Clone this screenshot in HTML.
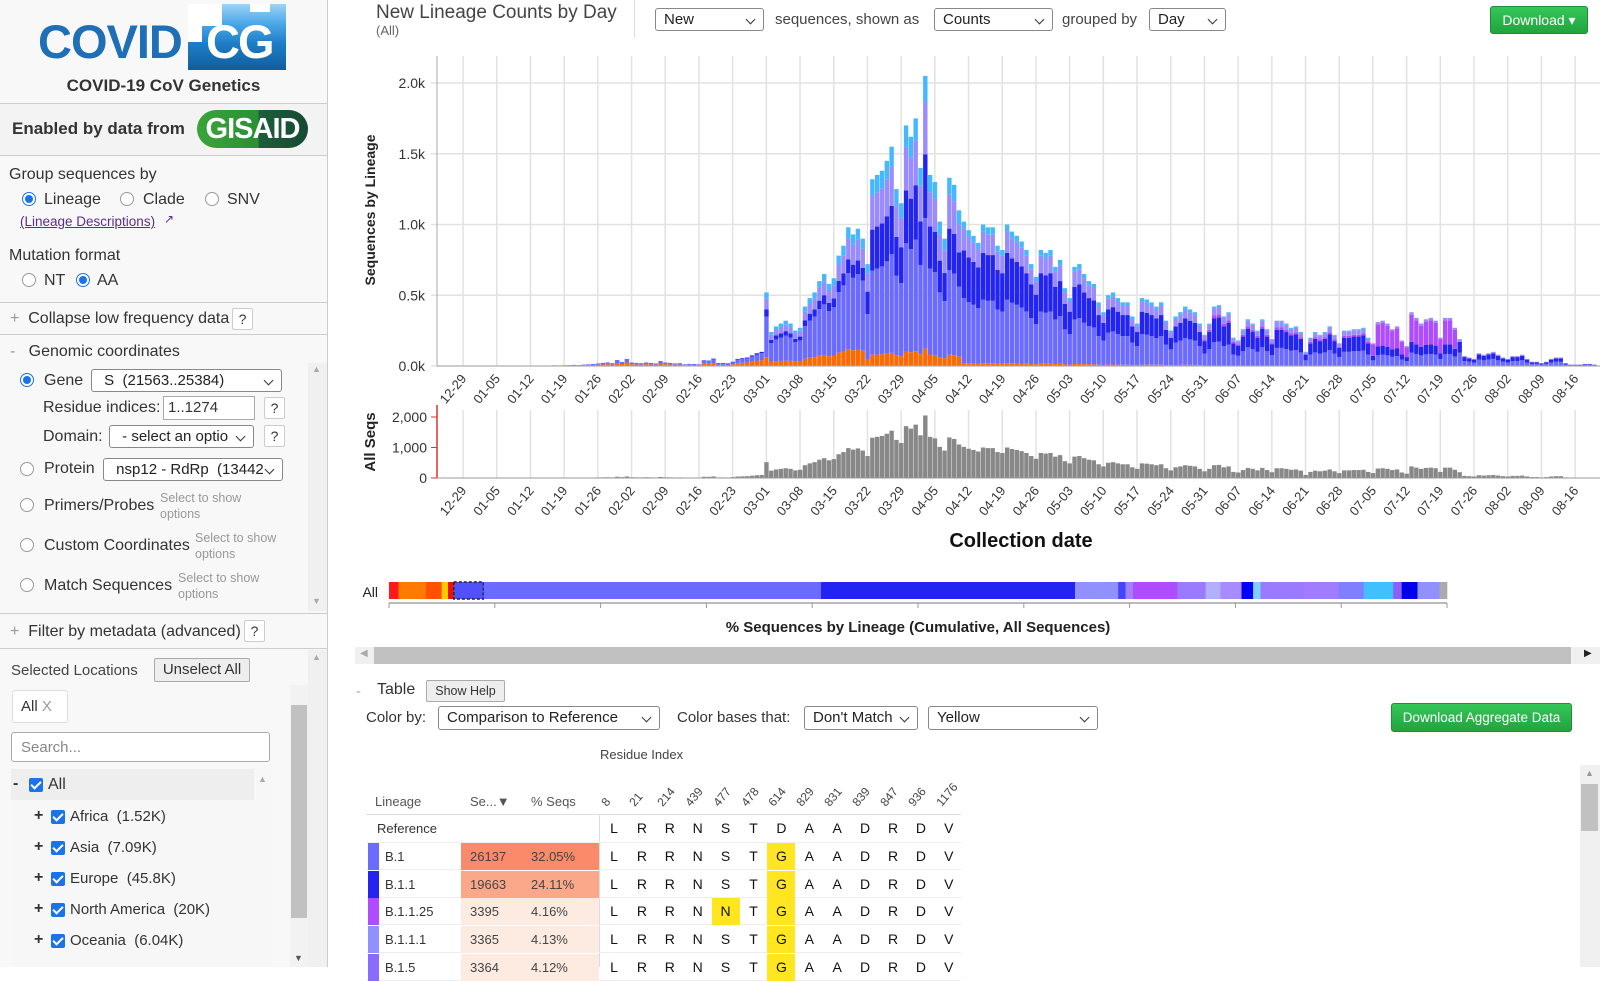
<!DOCTYPE html>
<html><head><meta charset="utf-8">
<style>
*{box-sizing:border-box;margin:0;padding:0}
body{width:1600px;height:967px;overflow:hidden;background:#fff;font-family:"Liberation Sans",Arial,sans-serif;color:#333;position:relative}
.a{position:absolute;white-space:nowrap}
.sb{position:absolute;left:0;top:0;width:328px;height:967px;background:#f8f8f8;border-right:1px solid #ccc}
.sep{position:absolute;left:0;width:327px;height:1px;background:#ccc}
.sel{position:absolute;border:1px solid #888;border-radius:3px;background:#fff;font-size:15px;padding:2px 8px;color:#222}
.sel:after{content:"";position:absolute;right:9px;top:7px;width:6px;height:6px;border-right:1.3px solid #333;border-bottom:1.3px solid #333;transform:rotate(45deg)}
.radio{position:absolute;width:14px;height:14px;border-radius:50%;border:1px solid #999;background:#fff}
.radio.on{border:1px solid #1a73e8}
.radio.on:after{content:"";position:absolute;left:2px;top:2px;width:8px;height:8px;border-radius:50%;background:#1a73e8}
.q{position:absolute;width:21px;height:22px;border:1px solid #ccc;background:#fff;font-size:14px;text-align:center;line-height:20px;border-radius:2px}
.hint{position:absolute;font-size:12.5px;color:#999;line-height:16px}
.cb{position:absolute;width:14px;height:14px;background:#1a73e8;border-radius:2px}
.cb:after{content:"";position:absolute;left:4px;top:1px;width:4px;height:8px;border-right:2px solid #fff;border-bottom:2px solid #fff;transform:rotate(45deg)}
.t16{font-size:16px}
.btn{position:absolute;background:#eee;border:1px solid #aaa;font-size:15px;text-align:center;border-radius:2px}
.gbtn{position:absolute;background:linear-gradient(#34c759,#22a33f);border:1px solid #1d8d36;border-radius:3px;color:#fff;font-size:14px;text-align:center}
.cell{position:absolute;font-size:14px;color:#111;text-align:center;width:28px}
</style></head><body>

<div class="sb">
  <div class="a" style="left:36px;top:4px;width:250px;height:66px">
    <div class="a" style="left:152px;top:0;width:98px;height:66px;background:linear-gradient(180deg,#9fd3f5 0,#4aa8e8 30%,#1f7dc7 60%,#0f5e9e 100%)"></div>
    <div class="a" style="left:152px;top:0;width:34px;height:22px;background:#fff"></div>
    <div class="a" style="left:152px;top:22px;width:14px;height:16px;background:#fff"></div>
    <div class="a" style="left:214px;top:0;width:20px;height:8px;background:#fff"></div>
    <div class="a" style="left:2px;top:10px;font-size:47px;font-weight:bold;color:#1e6fb5;letter-spacing:-1px">COVID</div>
    <div class="a" style="left:170px;top:10px;font-size:47px;font-weight:bold;color:#fff;letter-spacing:-2px">CG</div>
  </div>
  <div class="a" style="left:0;width:327px;text-align:center;top:76px;font-size:17px;font-weight:bold;color:#333">COVID-19 CoV Genetics</div>
  <div class="sep" style="top:103px"></div>
  <div class="a" style="left:0;top:104px;width:327px;height:51px;background:#f3f3f3"></div>
  <div class="a" style="left:12px;top:119px;font-size:17px;font-weight:bold;color:#333">Enabled by data from</div>
  <div class="a" style="left:197px;top:110px;width:111px;height:38px;border-radius:19px;background:linear-gradient(90deg,#3aa43a 0,#2b8f35 55%,#1d5e3c 56%,#164a32 100%);color:#fff;font-weight:bold;font-size:29px;text-align:center;line-height:38px;letter-spacing:-1px">GISAID</div>
  <div class="sep" style="top:155px"></div>

  <div class="a t16" style="left:9px;top:166px">Group sequences by</div>
  <div class="radio on" style="left:22px;top:192px"></div><div class="a t16" style="left:44px;top:191px">Lineage</div>
  <div class="radio" style="left:120px;top:192px"></div><div class="a t16" style="left:143px;top:191px">Clade</div>
  <div class="radio" style="left:205px;top:192px"></div><div class="a t16" style="left:227px;top:191px">SNV</div>
  <div class="a" style="left:20px;top:214px;font-size:13.5px;color:#5b2d90;text-decoration:underline">(Lineage Descriptions)</div><div class="a" style="left:164px;top:212px;font-size:12px;color:#5b2d90">↗</div>
  <div class="a t16" style="left:9px;top:247px">Mutation format</div>
  <div class="radio" style="left:22px;top:273px"></div><div class="a t16" style="left:44px;top:272px">NT</div>
  <div class="radio on" style="left:76px;top:273px"></div><div class="a t16" style="left:97px;top:272px">AA</div>
  <div class="sep" style="top:302px"></div>

  <div class="a t16" style="left:10px;top:310px"><span style="color:#999">+</span>&nbsp; Collapse low frequency data</div>
  <div class="q" style="left:232px;top:308px">?</div>
  <div class="sep" style="top:334px"></div>
  <div class="a t16" style="left:10px;top:343px"><span style="color:#999">-</span>&nbsp;&nbsp; Genomic coordinates</div>
  <div class="a" style="left:308px;top:363px;width:19px;height:248px;background:#f0f0f0"></div>
  <div class="a" style="left:312px;top:364px;font-size:9px;color:#aaa">▲</div><div class="a" style="left:312px;top:596px;font-size:9px;color:#aaa">▼</div>
  <div class="radio on" style="left:20px;top:373px"></div><div class="a t16" style="left:44px;top:372px">Gene</div>
  <div class="sel" style="left:91px;top:369px;width:191px;height:23px">&nbsp;S&nbsp; (21563..25384)</div>
  <div class="a t16" style="left:43px;top:399px">Residue indices:</div>
  <div class="a" style="left:163px;top:396px;width:92px;height:24px;border:1px solid #aaa;background:#fff;font-size:15px;padding:2px 4px">1..1274</div>
  <div class="q" style="left:264px;top:397px">?</div>
  <div class="a t16" style="left:43px;top:428px">Domain:</div>
  <div class="sel" style="left:109px;top:425px;width:145px;height:23px;overflow:hidden">&nbsp;- select an optio</div>
  <div class="q" style="left:264px;top:425px">?</div>
  <div class="radio" style="left:20px;top:462px"></div><div class="a t16" style="left:44px;top:460px">Protein</div>
  <div class="sel" style="left:103px;top:458px;width:180px;height:23px;overflow:hidden">&nbsp;nsp12 - RdRp&nbsp; (13442</div>
  <div class="radio" style="left:20px;top:498px"></div><div class="a t16" style="left:44px;top:497px">Primers/Probes</div>
  <div class="hint" style="left:160px;top:490px">Select to show<br>options</div>
  <div class="radio" style="left:20px;top:538px"></div><div class="a t16" style="left:44px;top:537px">Custom Coordinates</div>
  <div class="hint" style="left:195px;top:530px">Select to show<br>options</div>
  <div class="radio" style="left:20px;top:578px"></div><div class="a t16" style="left:44px;top:577px">Match Sequences</div>
  <div class="hint" style="left:178px;top:570px">Select to show<br>options</div>
  <div class="sep" style="top:613px"></div>
  <div class="a t16" style="left:10px;top:623px"><span style="color:#999">+</span>&nbsp; Filter by metadata (advanced)</div>
  <div class="q" style="left:244px;top:620px">?</div>
  <div class="sep" style="top:648px"></div>

  <div class="a" style="left:308px;top:650px;width:19px;height:317px;background:#f0f0f0"></div>
  <div class="a" style="left:312px;top:652px;font-size:9px;color:#aaa">▲</div>
  <div class="a" style="left:11px;top:662px;font-size:15px;color:#444">Selected Locations</div>
  <div class="btn" style="left:154px;top:658px;width:96px;height:24px;line-height:22px">Unselect All</div>
  <div class="a" style="left:290px;top:685px;width:18px;height:282px;background:#f2f2f2"></div>
  <div class="a" style="left:291px;top:705px;width:16px;height:213px;background:#c1c1c1"></div>
  <div class="a" style="left:12px;top:690px;width:56px;height:33px;border:1px solid #ddd;border-radius:3px;background:#fff;font-size:15px;padding:7px 8px">All <span style="color:#999">X</span></div>
  <div class="a" style="left:11px;top:732px;width:259px;height:30px;border:1px solid #aaa;border-radius:3px;background:#fff;font-size:15px;color:#888;padding:6px 9px">Search...</div>
  <div class="a" style="left:11px;top:768px;width:262px;height:199px;background:#f7f7f7"></div>
  <div class="a" style="left:11px;top:769px;width:243px;height:31px;background:#eee"></div>
  <div class="a" style="left:258px;top:774px;font-size:9px;color:#aaa">▲</div>
  <div class="a t16" style="left:13px;top:775px;font-weight:bold">-</div>
  <div class="cb" style="left:29px;top:778px"></div><div class="a t16" style="left:48px;top:776px">All</div>
  <div class="a t16" style="left:34px;top:807px;font-weight:bold">+</div><div class="cb" style="left:51px;top:810px"></div><div class="a" style="left:70px;top:808px;font-size:15px">Africa&nbsp; (1.52K)</div>
  <div class="a t16" style="left:34px;top:838px;font-weight:bold">+</div><div class="cb" style="left:51px;top:841px"></div><div class="a" style="left:70px;top:839px;font-size:15px">Asia&nbsp; (7.09K)</div>
  <div class="a t16" style="left:34px;top:869px;font-weight:bold">+</div><div class="cb" style="left:51px;top:872px"></div><div class="a" style="left:70px;top:870px;font-size:15px">Europe&nbsp; (45.8K)</div>
  <div class="a t16" style="left:34px;top:900px;font-weight:bold">+</div><div class="cb" style="left:51px;top:903px"></div><div class="a" style="left:70px;top:901px;font-size:15px">North America&nbsp; (20K)</div>
  <div class="a t16" style="left:34px;top:931px;font-weight:bold">+</div><div class="cb" style="left:51px;top:934px"></div><div class="a" style="left:70px;top:932px;font-size:15px">Oceania&nbsp; (6.04K)</div>
  <div class="a" style="left:294px;top:953px;font-size:9px;color:#555">▼</div>
</div>

<!-- header -->
<div class="a" style="left:376px;top:2px;font-size:19px;color:#444">New Lineage Counts by Day</div>
<div class="a" style="left:376px;top:23px;font-size:13px;color:#666">(All)</div>
<div class="a" style="left:634px;top:0;width:1px;height:38px;background:#ddd"></div>
<div class="sel" style="left:655px;top:8px;width:109px;height:23px">New</div>
<div class="a" style="left:775px;top:11px;font-size:15px;color:#444">sequences, shown as</div>
<div class="sel" style="left:934px;top:8px;width:119px;height:23px">Counts</div>
<div class="a" style="left:1062px;top:11px;font-size:15px;color:#444">grouped by</div>
<div class="sel" style="left:1149px;top:8px;width:77px;height:23px">Day</div>
<div class="gbtn" style="left:1490px;top:6px;width:98px;height:28px;line-height:26px;font-size:14px">Download &#9662;</div>

<svg id="chart" class="a" style="left:0;top:0" width="1600" height="967"></svg>

<!-- horizontal scrollbar -->
<div class="a" style="left:355px;top:647px;width:1245px;height:17px;background:#f0f0f0"></div>
<div class="a" style="left:374px;top:647px;width:1197px;height:17px;background:#c1c1c1"></div>
<div class="a" style="left:360px;top:648px;font-size:10px;color:#aaa">◀</div>
<div class="a" style="left:1584px;top:648px;font-size:10px;color:#222">▶</div>

<!-- table section -->
<div class="a" style="left:356px;top:683px;font-size:15px;color:#aaa">-</div>
<div class="a" style="left:377px;top:681px;font-size:16px;color:#333">Table</div>
<div class="btn" style="left:426px;top:680px;width:79px;height:22px;font-size:12.5px;line-height:20px">Show Help</div>
<div class="a" style="left:366px;top:709px;font-size:15px;color:#333">Color by:</div>
<div class="sel" style="left:438px;top:706px;width:222px;height:24px">Comparison to Reference</div>
<div class="a" style="left:677px;top:709px;font-size:15px;color:#333">Color bases that:</div>
<div class="sel" style="left:804px;top:706px;width:114px;height:24px">Don't Match</div>
<div class="sel" style="left:928px;top:706px;width:170px;height:24px">Yellow</div>
<div class="gbtn" style="left:1391px;top:703px;width:181px;height:29px;line-height:27px;font-size:13.5px">Download Aggregate Data</div>
<div class="a" style="left:600px;top:747px;font-size:13px;color:#444">Residue Index</div>
<div class="a" style="left:1580px;top:765px;width:20px;height:202px;background:#f0f0f0"></div>
<div class="a" style="left:1581px;top:784px;width:17px;height:47px;background:#c1c1c1"></div>
<div class="a" style="left:1585px;top:768px;font-size:9px;color:#999">▲</div>
<div id="table" class="a" style="left:0;top:0"></div>

<script>
// ---------- chart data ----------
const startDate = [12, 24]; // 2019-12-24 = day 0
const tickLabels = ["12-29","01-05","01-12","01-19","01-26","02-02","02-09","02-16","02-23","03-01","03-08","03-15","03-22","03-29","04-05","04-12","04-19","04-26","05-03","05-10","05-17","05-24","05-31","06-07","06-14","06-21","06-28","07-05","07-12","07-19","07-26","08-02","08-09","08-16"];
const tickDays = [5,12,19,26,33,40,47,54,61,68,75,82,89,96,103,110,117,124,131,138,145,152,159,166,173,180,187,194,201,208,215,222,229,236];
const yTicks = [0, 500, 1000, 1500, 2000];
const yTickLabels = ["0.0k","0.5k","1.0k","1.5k","2.0k"];
const allTicks = [0, 1000, 2000];
const allTickLabels = ["0","1,000","2,000"];
// daily sequence totals from 12-24
const dailyTotals = [
0,0,2,0,0,
3,2,0,2,3,0,2, 0,2,0,3,0,2,0, 2,3,2,4,3,5,4, 5,6,8,6,10,12,14,
18,22,25,20,42,28,50, 25,22,20,25,22,18,35, 25,22,18,20,12,15,14,
12,40,38,52,20,20,18, 30,50,55,60,75,90,100,
520,240,280,300,320,300,250, 270,420,480,520,600,650,580, 620,780,850,980,930,970,900,
720,1320,1350,1380,1450,1550,1250, 1150,1700,1620,1750,1400,2050,1350,
1300,1020,900,1330,1280,1100,1020, 960,920,870,1000,980,980,850, 820,1000,950,920,880,820,720,
630,820,800,820,700,750,550, 480,700,720,650,600,580,450, 380,500,520,480,450,450,350,
300,480,470,450,420,450,320, 250,350,380,420,400,380,300, 220,300,420,430,350,380,200,
180,260,330,300,250,330,260, 190,320,320,300,270,280,240, 100,200,240,220,240,280,220,
160,250,250,260,260,270,200, 160,310,320,300,260,280,180, 140,380,340,300,330,340,320,
200,340,340,270,190,70,60, 50,90,80,90,100,80,60, 50,70,70,80,50,30,30,
20,30,50,60,60,20,10, 10,10,15,15,10];
// lineage composition by period (period start day)
const periodStarts = [0,55,68,89,109,159,194,212];
const shareEarly  = [0.50,0.40,0.12,0.06,0.02,0.00,0.00,0.00];
const shareB1     = [0.50,0.50,0.55,0.45,0.45,0.40,0.25,0.50];
const shareB11    = [0.00,0.10,0.10,0.22,0.33,0.40,0.20,0.40];
const sharePurple = [0.00,0.00,0.00,0.00,0.00,0.05,0.50,0.00];
const shareLav    = [0.00,0.00,0.15,0.18,0.15,0.12,0.05,0.10];
const shareCyan   = [0.00,0.00,0.08,0.09,0.05,0.03,0.00,0.00];
const seriesColors = ["#ff6a00","#6b6bff","#2323f2","#b04cff","#9a8cff","#45b8ff"];
// cumulative lineage bar (% of sequences)
const lineagePct = [0.9,2.6,1.5,0.6,0.5,2.9,32.0,24.1,4.1,0.7,0.7,4.2,2.7,1.4,2.0,1.1,0.7,4.1,3.3,2.4,2.8,0.8,1.5,2.1,0.7];
const lineageColors = ["#ff1a1a","#ff7a00","#ff5000","#ffcc00","#ee1100","#5050ff","#6b6bff","#2323f2","#9090ff","#4444ff","#a080ff","#b04cff","#9a7aff","#b0b0ff","#a88cff","#0000ff","#80d0ff","#9a7aff","#a27cff","#8080ff","#40c0ff","#8a60ff","#0000ee","#9090ff","#aaaaaa"];

const NS = "http://www.w3.org/2000/svg";
const svg = document.getElementById("chart");
function mk(tag, attrs, parent){ const e=document.createElementNS(NS,tag); for(const k in attrs) e.setAttribute(k,attrs[k]); (parent||svg).appendChild(e); return e; }
const x = d => 439 + d*4.814;
const yTop = v => 366 - v/1000*141.5;
const yBot = v => 478 - v/2000*61;
function periodOf(d){ let p=0; for(let i=0;i<periodStarts.length;i++) if(d>=periodStarts[i]) p=i; return p; }

// grids
tickDays.forEach(d=>{
  const g=mk("line",{x1:x(d),x2:x(d),y1:56,y2:366,stroke:"#e2e2e2","stroke-width":1.5});
  
  
  const g2=mk("line",{x1:x(d),x2:x(d),y1:410,y2:478,stroke:"#e2e2e2","stroke-width":1.5});
  
  
});
yTicks.forEach((v,i)=>{
  const g=mk("line",{x1:431,x2:1600,y1:yTop(v),y2:yTop(v),stroke:"#e2e2e2","stroke-width":1.5});
  
  
  const t=mk("text",{x:425,y:yTop(v)+5,"text-anchor":"end","font-size":14,fill:"#333"});
  t.textContent=yTickLabels[i];
  
  
});
// top stacked bars
const shares=[shareEarly,shareB1,shareB11,sharePurple,shareLav,shareCyan];
dailyTotals.forEach((tot,d)=>{
  const p=periodOf(d); let acc=0;
  shares.forEach((s,k)=>{
    const v=tot*s[p]; if(v<=0) return;
    const r=mk("rect",{x:x(d)-2.1,width:4.4,y:yTop(acc+v),height:Math.max(0.5,yTop(acc)-yTop(acc+v)),fill:seriesColors[k]});
    
    
    acc+=v;
  });
  const b=mk("rect",{x:x(d)-2.1,width:4.4,y:yBot(tot),height:478-yBot(tot),fill:"#888"});
  
  
});
mk("line",{x1:437,x2:437,y1:56,y2:366,stroke:"#aaa"});
mk("line",{x1:437,x2:1600,y1:366,y2:366,stroke:"#aaa"});
// x tick labels
tickDays.forEach((d,i)=>{
  [373,485].forEach((yy,j)=>{
    const t=mk("text",{x:0,y:0,"text-anchor":"end","font-size":13,fill:"#333",transform:`translate(${x(d)+4},${yy+6}) rotate(-50)`});
    t.textContent=tickLabels[i];
    
    
  });
});
// bottom chart axis
allTicks.forEach((v,i)=>{
  const t=mk("text",{x:427,y:yBot(v)+5,"text-anchor":"end","font-size":14,fill:"#333"});
  t.textContent=allTickLabels[i];
  
  
  mk("line",{x1:431,x2:437,y1:yBot(v),y2:yBot(v),stroke:"#d33"});
});
mk("line",{x1:437,x2:437,y1:405,y2:478,stroke:"#d33","stroke-width":1.5});
mk("line",{x1:437,x2:1600,y1:478,y2:478,stroke:"#999"});
let t=mk("text",{transform:"translate(375,210) rotate(-90)","text-anchor":"middle","font-size":14,"font-weight":"bold",fill:"#222"});
t.textContent="Sequences by Lineage";


t=mk("text",{transform:"translate(375,442) rotate(-90)","text-anchor":"middle","font-size":15,"font-weight":"bold",fill:"#222"});
t.textContent="All Seqs";


t=mk("text",{x:1021,y:547,"text-anchor":"middle","font-size":20,"font-weight":"bold",fill:"#111"});
t.textContent="Collection date";


// cumulative lineage bar
t=mk("text",{x:378,y:597,"text-anchor":"end","font-size":14,fill:"#222"});
t.textContent="All";


const bx0=389, bw=1058;
let cum=0; const totPct=lineagePct.reduce((a,b)=>a+b,0);
lineagePct.forEach((p,i)=>{
  const r=mk("rect",{x:bx0+cum/totPct*bw,y:582,width:p/totPct*bw+0.3,height:17,fill:lineageColors[i]});
  
  
  if(i===5) mk("rect",{x:bx0+cum/totPct*bw+0.5,y:582,width:p/totPct*bw-1,height:17,fill:"none",stroke:"#222","stroke-dasharray":"3,2","stroke-width":1.5});
  cum+=p;
});
mk("line",{x1:bx0,x2:bx0+bw,y1:603,y2:603,stroke:"#bbb","stroke-width":2});
for(let i=0;i<=10;i++) mk("line",{x1:bx0+i*bw/10,x2:bx0+i*bw/10,y1:603,y2:608,stroke:"#999"});
t=mk("text",{x:918,y:632,"text-anchor":"middle","font-size":15,"font-weight":"bold",fill:"#222"});
t.textContent="% Sequences by Lineage (Cumulative, All Sequences)";



// ---------- table ----------
const residues=["8","21","214","439","477","478","614","829","831","839","847","936","1176"];
const refSeq=["L","R","R","N","S","T","D","A","A","D","R","D","V"];
const rowLineages=["B.1","B.1.1","B.1.1.25","B.1.1.1","B.1.5"];
const rowCounts=["26137","19663","3395","3365","3364"];
const rowPcts=["32.05%","24.11%","4.16%","4.13%","4.12%"];
const rowColors=["#6b6bff","#2323f2","#b04cff","#9090ff","#8a6bff"];
const rowBg=["#fa8a6a","#fba88a","#fdebe2","#fdebe2","#fdebe2"];
const rowSeqs=[
["L","R","R","N","S","T","G","A","A","D","R","D","V"],
["L","R","R","N","S","T","G","A","A","D","R","D","V"],
["L","R","R","N","N","T","G","A","A","D","R","D","V"],
["L","R","R","N","S","T","G","A","A","D","R","D","V"],
["L","R","R","N","S","T","G","A","A","D","R","D","V"]];
const tb=document.getElementById("table");
let h='';
const cx=i=>600+i*27.9;
h+='<div class="a" style="left:375px;top:794px;font-size:13px;color:#555">Lineage</div>';
h+='<div class="a" style="left:470px;top:794px;font-size:13px;color:#555">Se...▼</div>';
h+='<div class="a" style="left:531px;top:794px;font-size:13px;color:#555">% Seqs</div>';
residues.forEach((r,i)=>{h+=`<div class="a" style="left:${cx(i)+9}px;top:795px;height:14px;font-size:12px;line-height:14px;color:#444;transform:rotate(-50deg);transform-origin:0 100%">${r}</div>`;});
h+='<div class="a" style="left:366px;top:814px;width:595px;height:1px;background:#ddd"></div>';
h+='<div class="a" style="left:599px;top:814px;width:1px;height:153px;background:#ddd"></div>';
h+='<div class="a" style="left:377px;top:821px;font-size:13px;color:#333">Reference</div>';
refSeq.forEach((c,i)=>{h+=`<div class="cell" style="left:${cx(i)}px;top:820px">${c}</div>`;});
h+='<div class="a" style="left:366px;top:842px;width:595px;height:1px;background:#eee"></div>';
rowLineages.forEach((l,r)=>{
  const top=843+r*27.7;
  h+=`<div class="a" style="left:366px;top:${top}px;width:595px;height:27px;border-bottom:1px solid #eee"></div>`;
  h+=`<div class="a" style="left:368px;top:${top}px;width:11px;height:27px;background:${rowColors[r]}"></div>`;
  h+=`<div class="a" style="left:385px;top:${top+6}px;font-size:13px;color:#333">${l}</div>`;
  h+=`<div class="a" style="left:461px;top:${top}px;width:138px;height:27px;background:${rowBg[r]}"></div>`;
  h+=`<div class="a" style="left:470px;top:${top+6}px;font-size:13px;color:#444">${rowCounts[r]}</div>`;
  h+=`<div class="a" style="left:531px;top:${top+6}px;font-size:13px;color:#444">${rowPcts[r]}</div>`;
  rowSeqs[r].forEach((c,i)=>{
    const diff=c!==refSeq[i];
    h+=`<div class="cell" style="left:${cx(i)}px;top:${top}px;height:27px;line-height:27px;${diff?'background:#ffe620;':''}">${c}</div>`;
  });
});
tb.innerHTML=h;
</script>
</body></html>
